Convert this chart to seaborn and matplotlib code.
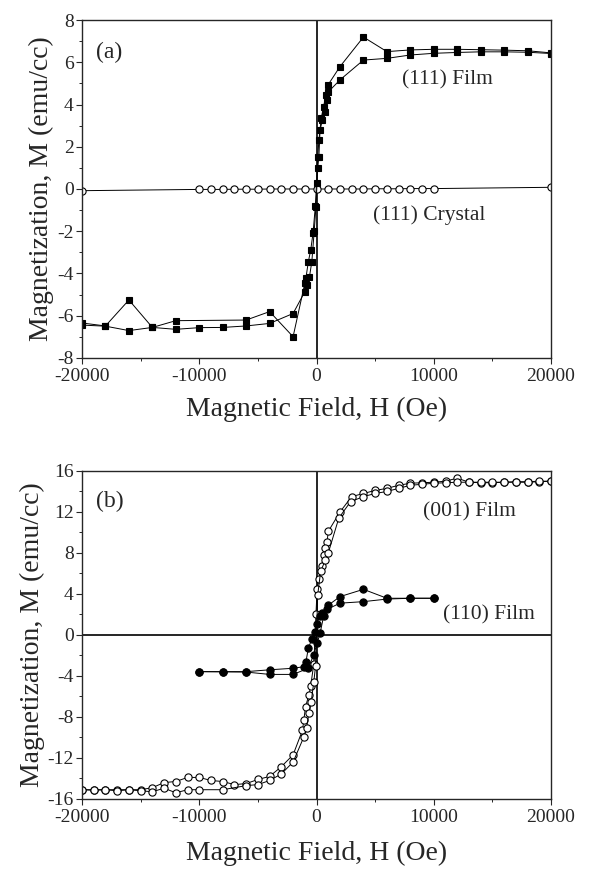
print("1. Start script...", flush=True)

import numpy as np
import pandas as pd
import matplotlib
matplotlib.use("Agg")
import matplotlib.pyplot as plt
from matplotlib.ticker import MultipleLocator
import seaborn as sns

OUTPUT_FILE = "out.png"

# ---- panel (a): (111) film, two loop branches ----
H_a_down = [20000, 18000, 16000, 14000, 12000, 10000, 8000, 6000, 4000, 2000, 1000, 800, 600, 400,
            200, 100, 0, -100, -300, -500, -700, -900, -1000, -2000, -4000, -6000, -12000, -14000,
            -16000, -18000, -20000]
M_a_down = [6.45, 6.55, 6.58, 6.6, 6.62, 6.62, 6.59, 6.51, 7.2, 5.8, 4.95, 4.45, 3.9, 3.35,
            2.3, 1.5, 0.3, -0.8, -2.1, -2.9, -3.45, -4.2, -4.47, -7.0, -5.81, -6.21, -6.24, -6.56,
            -5.26, -6.49, -6.35]

H_a_up = [-20000, -18000, -16000, -14000, -12000, -10000, -8000, -6000, -4000, -2000, -1000, -800,
          -600, -400, -200, -50, 100, 200, 300, 500, 700, 900, 1000, 2000, 4000, 6000, 8000, 10000,
          12000, 14000, 16000, 18000, 20000]
M_a_up = [-6.45, -6.5, -6.71, -6.56, -6.65, -6.57, -6.56, -6.49, -6.37, -5.9, -4.87, -4.55,
          -4.15, -3.44, -2.0, -0.84, 0.98, 1.53, 2.8, 3.27, 3.66, 4.2, 4.6, 5.17, 6.11, 6.19, 6.35, 6.43,
          6.47, 6.5, 6.5, 6.48, 6.42]

# (111) crystal
H_crystal = [-20000, -10000, -9000, -8000, -7000, -6000, -5000, -4000, -3000, -2000, -1000, 0,
             1000, 2000, 3000, 4000, 5000, 6000, 7000, 8000, 9000, 10000, 20000]
M_crystal = [-0.08, -0.02, -0.02, -0.02, -0.01, -0.01, -0.01, 0.0, 0.0, 0.0, 0.0, 0.0,
             0.0, 0.0, 0.0, 0.0, 0.01, 0.01, 0.01, 0.02, 0.02, 0.02, 0.08]

# ---- panel (b): (001) film ----
H_b1_down = [20000, 19000, 18000, 17000, 16000, 15000, 14000, 13000, 12000, 11000, 10000, 9000,
             8000, 7000, 6000, 5000, 4000, 3000, 2000, 1000, 900, 750, 600, 450, 200, 50, -50, -230,
             -500, -650, -940, -1080, -1200, -2000, -3000, -4000, -5000, -6000, -7000, -8000, -9000,
             -10000, -11000, -12000, -13000, -14000, -15000, -16000, -17000, -18000, -19000, -20000]
M_b1_down = [15.0, 14.95, 14.9, 14.9, 14.9, 14.85, 14.85, 14.9, 15.3, 15.0, 14.9, 14.85,
             14.8, 14.6, 14.3, 14.1, 13.8, 13.5, 12.0, 10.1, 9.1, 8.5, 7.8, 6.7, 5.5, 4.5, 2.0, -2.8,
             -5.0, -5.85, -7.0, -8.3, -9.3, -11.7, -12.85, -13.8, -14.1, -14.5, -14.6, -14.3, -14.2,
             -13.9, -13.9, -14.3, -14.4, -14.9, -15.1, -15.1, -15.1, -15.1, -15.1, -15.1]

H_b1_up = [-20000, -19000, -18000, -17000, -16000, -15000, -14000, -13000, -12000, -11000, -10000,
           -8000, -6000, -5000, -4000, -3000, -2000, -1100, -850, -650, -450, -230, -80, 100, 350,
           750, 1000, 1900, 2900, 4000, 5000, 6000, 7000, 8000, 9000, 10000, 11000, 12000, 13000,
           14000, 15000, 16000, 17000, 18000, 19000, 20000]
M_b1_up = [-15.1, -15.15, -15.1, -15.2, -15.1, -15.2, -15.3, -14.95, -15.4, -15.1, -15.1,
           -15.1, -14.7, -14.6, -14.2, -13.56, -12.4, -10.0, -9.1, -7.6, -6.5, -4.55, -3.0, 3.9, 6.2,
           7.3, 8.0, 11.4, 13.0, 13.5, 13.8, 14.0, 14.3, 14.6, 14.7, 14.8, 14.85, 14.9, 14.9,
           14.9, 14.9, 14.9, 14.95, 14.95, 15.0, 15.0]

# (110) film
H_b2_down = [10000, 8000, 6000, 4000, 2000, 1000, 500, 300, 0, -100, -400, -700, -900, -1100,
             -2000, -4000, -6000, -8000, -10000]
M_b2_down = [3.58, 3.58, 3.58, 4.45, 3.74, 2.9, 2.1, 1.8, 1.1, 0.3, -0.4, -1.3, -2.6, -3.1,
             -3.25, -3.4, -3.58, -3.58, -3.58]

H_b2_up = [-10000, -8000, -6000, -4000, -2000, -700, -250, 50, 300, 600, 900, 2000, 4000, 6000,
           8000, 10000]
M_b2_up = [-3.58, -3.6, -3.62, -3.85, -3.85, -3.25, -1.95, -0.8, 0.15, 1.8, 2.5, 3.1, 3.25, 3.5,
           3.58, 3.58]

XLABEL = "Magnetic Field, H (Oe)"
YLABEL = "Magnetization, M (emu/cc)"


def branch(ax, H, M, marker, filled, size=5.2):
    df = pd.DataFrame({"H": H, "M": M})
    sns.lineplot(data=df, x="H", y="M", ax=ax, sort=False, estimator=None,
                 color="black", linewidth=0.7, marker=marker, markersize=size,
                 markerfacecolor="black" if filled else "white",
                 markeredgecolor="black", markeredgewidth=0.8)


def style_axes(ax, ymaj, ymin, ylim, xlabelpad):
    ax.set_xlim(-20000, 20000)
    ax.set_ylim(*ylim)
    ax.xaxis.set_major_locator(MultipleLocator(10000))
    ax.xaxis.set_minor_locator(MultipleLocator(5000))
    ax.yaxis.set_major_locator(MultipleLocator(ymaj))
    ax.yaxis.set_minor_locator(MultipleLocator(ymin))
    ax.tick_params(which="major", direction="out", length=4, width=0.8, labelsize=14, pad=2)
    ax.tick_params(axis="x", which="major", pad=3)
    ax.tick_params(which="minor", direction="out", length=2.5, width=0.7)
    for s in ax.spines.values():
        s.set_linewidth(1.0)
        s.set_visible(True)
    ax.axvline(0, color="black", linewidth=1.2, zorder=1)
    ax.set_xlabel(XLABEL, fontsize=20, labelpad=xlabelpad)
    ax.set_ylabel(YLABEL, fontsize=20, labelpad=2)


def make_plot():
    sns.set_style("ticks")
    plt.rcParams["font.family"] = ["Liberation Serif", "DejaVu Serif"]
    plt.rcParams["axes.unicode_minus"] = False

    fig = plt.figure(figsize=(5.9, 8.77), dpi=100)
    ax_a = fig.add_axes([0.139, 0.592, 0.795, 0.385])
    ax_b = fig.add_axes([0.139, 0.089, 0.795, 0.374])

    # (a)
    branch(ax_a, H_crystal, M_crystal, "o", False)
    branch(ax_a, H_a_down, M_a_down, "s", True, 5.0)
    branch(ax_a, H_a_up, M_a_up, "s", True, 5.0)
    style_axes(ax_a, 2, 1, (-8, 8), 9)
    ax_a.text(-18800, 6.45, "(a)", fontsize=17, va="center")
    ax_a.text(7300, 5.17, "(111) Film", fontsize=15.5, va="center")
    ax_a.text(4850, -1.23, "(111) Crystal", fontsize=15.5, va="center")

    # (b)
    ax_b.axhline(0, color="black", linewidth=1.2, zorder=1)
    branch(ax_b, H_b1_down, M_b1_down, "o", False)
    branch(ax_b, H_b1_up, M_b1_up, "o", False)
    branch(ax_b, H_b2_down, M_b2_down, "o", True)
    branch(ax_b, H_b2_up, M_b2_up, "o", True)
    style_axes(ax_b, 4, 2, (-16, 16), 11)
    ax_b.text(-18800, 13.0, "(b)", fontsize=17, va="center")
    ax_b.text(9100, 12.0, "(001) Film", fontsize=15.5, va="center")
    ax_b.text(10800, 1.95, "(110) Film", fontsize=15.5, va="center")

    fig.savefig(OUTPUT_FILE, dpi=100)
    print(f" Plot saved to '{OUTPUT_FILE}'", flush=True)


if __name__ == "__main__":
    make_plot()
